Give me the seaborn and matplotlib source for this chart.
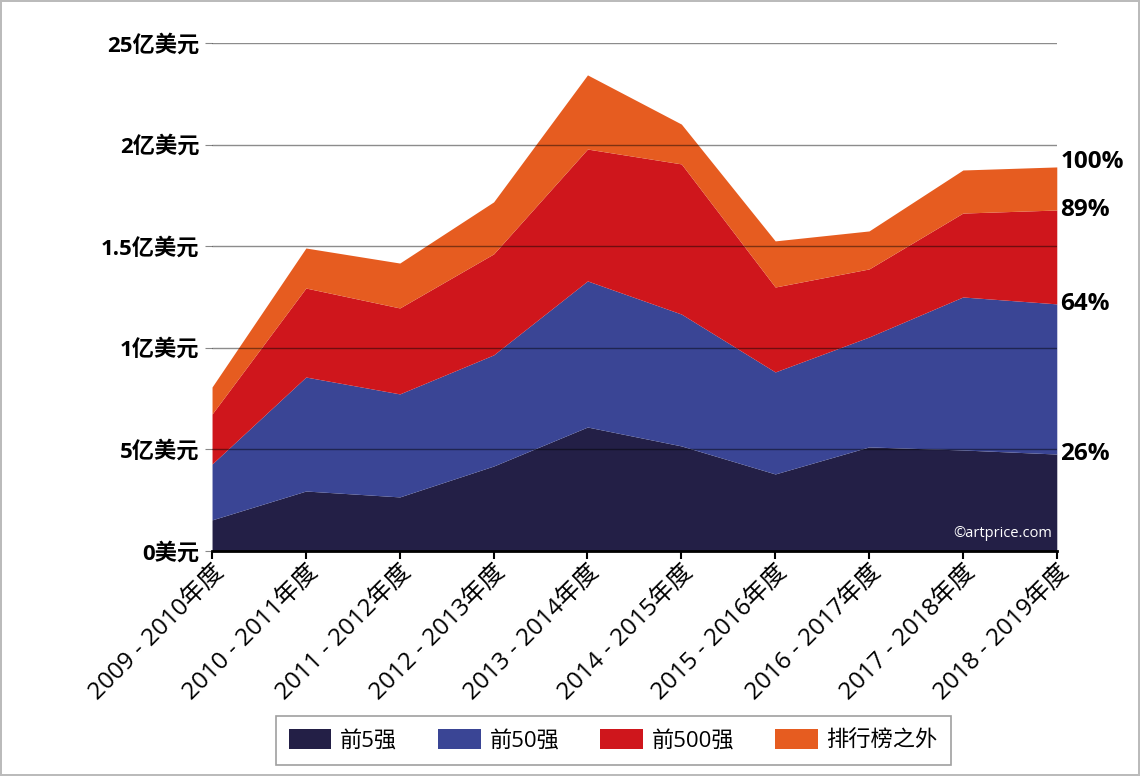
import numpy as np
import seaborn as sns
import matplotlib.pyplot as plt

seasons = ["2009 - 2010年度", "2010 - 2011年度", "2011 - 2012年度", "2012 - 2013年度",
           "2013 - 2014年度", "2014 - 2015年度", "2015 - 2016年度", "2016 - 2017年度",
           "2017 - 2018年度", "2018 - 2019年度"]
# sales per group (stacked)
top5 = [0.153, 0.295, 0.266, 0.418, 0.610, 0.517, 0.379, 0.512, 0.497, 0.477]
top50 = [0.275, 0.561, 0.507, 0.547, 0.719, 0.649, 0.502, 0.541, 0.753, 0.739]
top500 = [0.246, 0.438, 0.423, 0.497, 0.649, 0.739, 0.418, 0.335, 0.413, 0.462]
outside = [0.133, 0.197, 0.221, 0.256, 0.365, 0.196, 0.227, 0.187, 0.212, 0.212]
names = ["前5强", "前50强", "前500强", "排行榜之外"]
colors = ["#231f46", "#3a4595", "#cf161c", "#e65c20"]
ytick_vals = [0, 0.5, 1, 1.5, 2, 2.5]
ytick_labels = ["0美元", "5亿美元", "1亿美元", "1.5亿美元", "2亿美元", "25亿美元"]
share_labels = ["26%", "64%", "89%", "100%"]

sns.set_style("white")
plt.rcParams['font.family'] = ['Open Sans', 'Noto Sans CJK SC', 'DejaVu Sans']
plt.rcParams['text.color'] = 'black'
plt.rcParams['xtick.color'] = 'black'
plt.rcParams['ytick.color'] = 'black'

fig = plt.figure(figsize=(11.4, 7.76), dpi=100)
fig.patch.set_edgecolor("#bbbbbb")
fig.patch.set_linewidth(1.5)
ax = fig.add_axes([0.186, 0.290, 0.741, 0.6546])

x = np.arange(len(seasons))
ax.stackplot(x, top5, top50, top500, outside, colors=colors, labels=names, linewidth=0)

ax.set_xlim(0, len(seasons) - 1)
ax.set_ylim(0, 2.5)
ax.set_yticks(ytick_vals)
ax.set_yticklabels(ytick_labels, fontsize=16, fontweight="bold")
ax.set_xticks(x)
ax.set_xticklabels(seasons, rotation=45, ha="right", rotation_mode="anchor", fontsize=17.5)
ax.tick_params(axis="y", left=True, length=5, color="#888888", pad=4)
ax.tick_params(axis="x", bottom=True, length=6, width=1.5, color="black", direction="out", pad=1)

for v in ytick_vals[1:]:
    ax.axhline(v, color="black", alpha=0.45, linewidth=1, zorder=3)

for s in ["left", "right", "top"]:
    ax.spines[s].set_visible(False)
ax.spines["bottom"].set_color("black")
ax.spines["bottom"].set_linewidth(2)
ax.spines["bottom"].set_zorder(4)

# cumulative share labels at the last season
cum = np.cumsum([top5[-1], top50[-1], top500[-1], outside[-1]])
offsets = [0, 0, 0, 0.025]
for c, lab, off in zip(cum, share_labels, offsets):
    ax.text(len(seasons) - 1 + 0.04, c + off, lab, fontsize=17.5, fontweight="bold",
            va="center", ha="left", clip_on=False)

ax.text(0.995, 0.02, "©artprice.com", transform=ax.transAxes, color="white",
        fontsize=10.5, ha="right", va="bottom")

leg = fig.legend(loc="center", bbox_to_anchor=(0.538, 0.046), ncol=4, fontsize=16,
                 frameon=True, fancybox=False, edgecolor="#888888",
                 handlelength=1.9, handleheight=1.0, handletextpad=0.4,
                 columnspacing=1.85, borderpad=0.6)
leg.get_frame().set_linewidth(1.2)

fig.savefig("out.png", dpi=100)
